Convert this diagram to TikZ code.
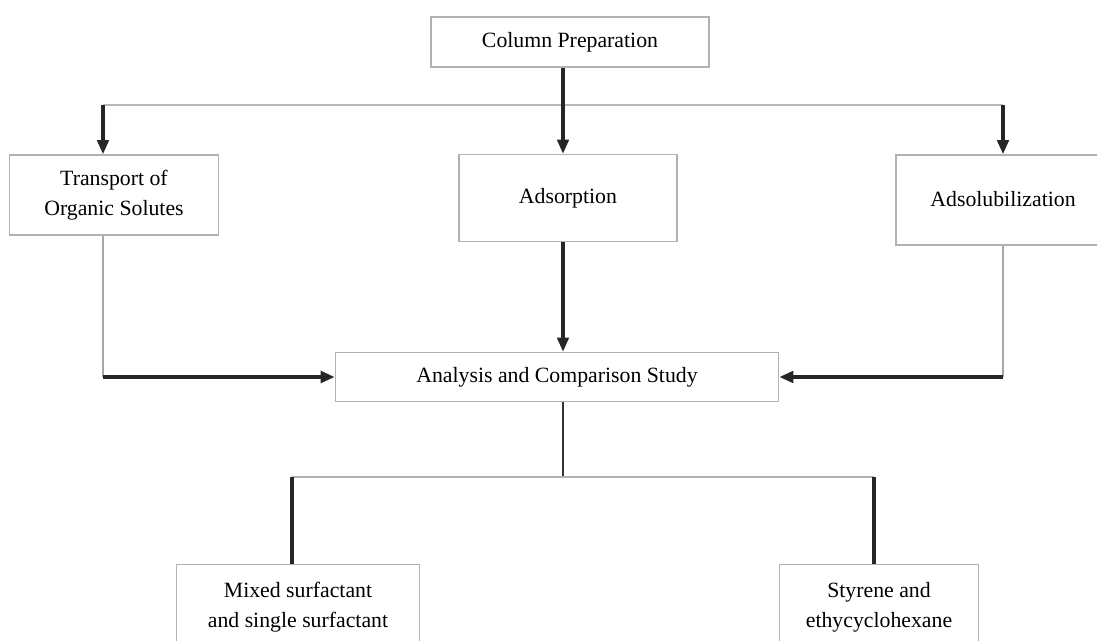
\documentclass[tikz,border=0pt]{standalone}
\usepackage{fontspec}
\setmainfont{Liberation Serif}
\usepackage{tikz}
\usetikzlibrary{arrows.meta}

\tikzset{
  box/.style={draw=gray!60, line width=0.9pt, fill=white, align=center,
    inner sep=2pt, font=\fontsize{12.4}{17}\selectfont},
  bus/.style={draw=gray!55, line width=1.6pt},
  stem/.style={draw=gray!70, line width=0.6pt},
  feed/.style={draw=black!85, line width=1.8pt,
    -{Triangle[length=8pt,width=6.5pt]}},
  sidefeed/.style={feed, line width=2.6pt},
  leg/.style={draw=black!85, line width=1.8pt}
}

\begin{document}
\begin{tikzpicture}[x=0.02cm, y=-0.02cm]
        \useasboundingbox (0,0) rectangle (1097,641);
        % boxes
        \node[box, minimum width=5.56cm, minimum height=1.0cm]  (colprep)    at (570,42)  {Column Preparation};
        \node[box, minimum width=4.18cm, minimum height=1.6cm]  (transport)  at (114,195) {Transport of\\Organic Solutes};
        \node[box, minimum width=4.36cm, minimum height=1.74cm] (adsorption) at (568,198) {Adsorption};
        \node[box, minimum width=4.28cm, minimum height=1.8cm]  (adsolub)    at (1003,200) {\\[-10pt]Adsolubilization};
        \node[box, minimum width=8.86cm, minimum height=0.98cm] (analysis)   at (557,377) {Analysis and Comparison Study};
        \node[box, minimum width=4.86cm, minimum height=1.7cm]  (mixed)      at (298,607) {Mixed surfactant\\and single surfactant};
        \node[box, minimum width=3.98cm, minimum height=1.7cm]  (styrene)    at (879,607) {Styrene and\\ethycyclohexane};
        \coordinate (hub)   at (563,105);
        \coordinate (lft)   at (103,105);
        \coordinate (split) at (563,477);
        \coordinate (lleg)  at (292,477);
        \coordinate (rleg)  at (874,477);
        % top branch
        \draw[bus] (lft) -- (adsolub.north |- hub);
        \draw[feed] (colprep.south -| hub) -- (adsorption.north -| hub);
        \draw[feed] (lft) -- (transport.north -| lft);
        \draw[feed] (adsolub.north |- hub) -- (adsolub.north);
        % into the analysis box
        \draw[stem] (transport.south -| lft) -- (lft |- analysis.west);
        \draw[sidefeed] (lft |- analysis.west) -- (analysis.west);
        \draw[stem] (adsolub.south) -- (adsolub.south |- analysis.east);
        \draw[sidefeed] (adsolub.south |- analysis.east) -- (analysis.east);
        \draw[feed] (adsorption.south -| hub) -- (analysis.north -| hub);
        % lower branch
        \draw[stem, draw=gray!40!black, line width=0.8pt] (analysis.south -| split) -- (split);
        \draw[bus, draw=gray!60] (lleg) -- (rleg);
        \draw[leg] (lleg) -- (mixed.north -| lleg);
        \draw[leg] (rleg) -- (styrene.north -| rleg);
      \end{tikzpicture}
\end{document}
